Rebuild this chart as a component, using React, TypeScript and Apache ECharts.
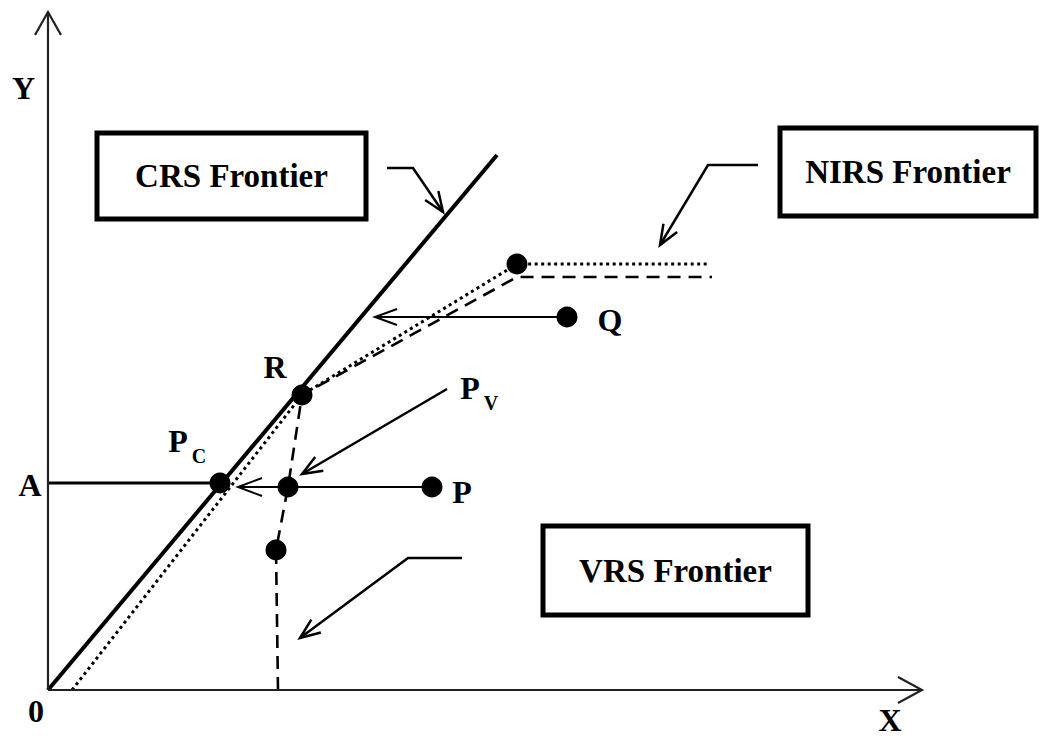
import React, { useEffect, useRef } from "react";
import * as echarts from "echarts";

const FONT = "'Liberation Serif', 'Times New Roman', serif";

// Frontiers (x, y) in diagram units
const crsFrontier = [[0, 0], [44.9, 53.5]];
const nirsFrontier = [[2.4, 0], [25.4, 29.5], [46.9, 42.6], [66.0, 42.6]];
const vrsFrontier = [[23.0, 0], [22.8, 14.0], [24.0, 20.3], [25.4, 29.5], [46.9, 41.3], [66.4, 41.3]];
const lineA = [[0, 20.7], [17.2, 20.7]];

// Decision-making units
const pointNames = ["Pc", "Pv", "P", "R", "Q", "V1", "N1"];
const pointValues = [[17.2, 20.7], [24.0, 20.3], [38.4, 20.3], [25.4, 29.5], [51.9, 37.3], [22.8, 14.0], [46.9, 42.6]];

// Arrows (polylines ending in an arrowhead)
const xAxisArrow = [[0, 0], [87.4, 0]];
const yAxisArrow = [[0, 0], [0, 67.8]];
const pMove = [[38.4, 20.3], [19.0, 20.3]];
const qMove = [[51.9, 37.3], [32.7, 37.3]];
const crsCallout = [[33.9, 52.2], [36.5, 52.2], [39.5, 47.8]];
const nirsCallout = [[71.0, 52.5], [66.0, 52.5], [61.2, 44.5]];
const pvCallout = [[39.9, 30.1], [25.4, 21.6]];
const vrsCallout = [[41.4, 13.2], [36.0, 13.2], [25.2, 5.2]];

// Labels: main text, subscript, anchor (x, y)
const labelTexts = ["Y", "X", "0", "A", "R", "P", "P", "P", "Q"];
const labelSubs = ["", "", "", "", "", "C", "V", "", ""];
const labelPos = [[-2.45, 60.2], [84.2, -3.0], [-1.2, -2.1], [-1.8, 20.5], [22.7, 32.3], [13.0, 24.9], [42.2, 30.2], [41.4, 19.8], [56.2, 37.0]];

const boxTexts = ["CRS Frontier", "NIRS Frontier", "VRS Frontier"];

export default function App() {
  const ref = useRef<HTMLDivElement>(null);
  useEffect(() => {
    if (!ref.current) return;
    const chart = echarts.init(ref.current, null, { renderer: "svg" });

    const arrowList = [
      { pts: xAxisArrow, w: 2.2, L: 24, W: 13, c: "#222" },
      { pts: yAxisArrow, w: 2.2, L: 23, W: 13, c: "#222" },
      { pts: pMove, w: 2, L: 24, W: 9, c: "#000" },
      { pts: qMove, w: 2, L: 22, W: 8, c: "#000" },
      { pts: crsCallout, w: 2.5, L: 20, W: 8, c: "#000" },
      { pts: nirsCallout, w: 2.5, L: 20, W: 8, c: "#000" },
      { pts: pvCallout, w: 2.5, L: 20, W: 8, c: "#000" },
      { pts: vrsCallout, w: 2.5, L: 20, W: 8, c: "#000" },
    ];

    const boxes = [
      { x: 97, y: 133, w: 269, h: 86 },
      { x: 780, y: 128, w: 256, h: 88 },
      { x: 543, y: 526, w: 265, h: 89 },
    ];

    const graphic: any[] = [];
    boxes.forEach((b, i) => {
      graphic.push({
        type: "rect",
        shape: { x: b.x, y: b.y, width: b.w, height: b.h },
        style: { fill: "#fff", stroke: "#000", lineWidth: 5 },
        z: 10,
      });
      graphic.push({
        type: "text",
        x: b.x + b.w / 2,
        y: b.y + b.h / 2,
        style: {
          text: boxTexts[i],
          fontFamily: FONT,
          fontWeight: "bold",
          fontSize: 33,
          fill: "#000",
          align: "center",
          verticalAlign: "middle",
        },
        z: 11,
      });
    });

    chart.setOption({
      animation: false,
      backgroundColor: "#fff",
      grid: { left: 48, top: 12, right: 122, bottom: 48, containLabel: false },
      xAxis: { type: "value", min: 0, max: 87.4, show: false },
      yAxis: { type: "value", min: 0, max: 67.8, show: false },
      graphic,
      series: [
        {
          type: "line",
          name: "CRS",
          data: crsFrontier,
          symbol: "none",
          lineStyle: { color: "#000", width: 4 },
          z: 3,
        },
        {
          type: "line",
          name: "NIRS",
          data: nirsFrontier,
          symbol: "none",
          lineStyle: { color: "#000", width: 3, type: [3, 3.5] },
          z: 3,
        },
        {
          type: "line",
          name: "VRS",
          data: vrsFrontier,
          symbol: "none",
          lineStyle: { color: "#000", width: 2.6, type: [13, 8] },
          z: 3,
        },
        {
          type: "line",
          name: "A",
          data: lineA,
          symbol: "none",
          lineStyle: { color: "#000", width: 3.2 },
          z: 3,
        },
        {
          type: "custom",
          name: "arrows",
          clip: false,
          data: arrowList.map((_, i) => [i, 0]),
          renderItem: (params: any, api: any) => {
            const a = arrowList[params.dataIndex];
            const pts = a.pts.map((p) => api.coord(p));
            const [tx, ty] = pts[pts.length - 1];
            const [px, py] = pts[pts.length - 2];
            const dx = tx - px;
            const dy = ty - py;
            const len = Math.hypot(dx, dy) || 1;
            const ux = dx / len;
            const uy = dy / len;
            const b1 = [tx - ux * a.L - uy * a.W, ty - uy * a.L + ux * a.W];
            const b2 = [tx - ux * a.L + uy * a.W, ty - uy * a.L - ux * a.W];
            return {
              type: "group",
              children: [
                {
                  type: "polyline",
                  shape: { points: pts },
                  style: { stroke: a.c, lineWidth: a.w, fill: null },
                },
                {
                  type: "polyline",
                  shape: { points: [b1, [tx, ty], b2] },
                  style: { stroke: a.c, lineWidth: a.w, fill: null, lineJoin: "miter" },
                },
              ],
            };
          },
          z: 4,
        },
        {
          type: "scatter",
          name: "DMU",
          data: pointValues.map((v, i) => ({ name: pointNames[i], value: v })),
          symbol: "circle",
          symbolSize: 21,
          itemStyle: { color: "#000", opacity: 1 },
          z: 5,
        },
        {
          type: "custom",
          name: "labels",
          clip: false,
          data: labelTexts.map((_, i) => [i, 0]),
          renderItem: (params: any, api: any) => {
            const i = params.dataIndex;
            const [x, y] = api.coord(labelPos[i]);
            const children: any[] = [
              {
                type: "text",
                x,
                y,
                style: {
                  text: labelTexts[i],
                  fontFamily: FONT,
                  fontWeight: "bold",
                  fontSize: 32,
                  fill: "#000",
                  align: "center",
                  verticalAlign: "middle",
                },
              },
            ];
            if (labelSubs[i]) {
              children.push({
                type: "text",
                x: x + 21,
                y: y + 15,
                style: {
                  text: labelSubs[i],
                  fontFamily: FONT,
                  fontWeight: "bold",
                  fontSize: 20,
                  fill: "#000",
                  align: "center",
                  verticalAlign: "middle",
                },
              });
            }
            return { type: "group", children };
          },
          z: 6,
        },
      ],
    });

    return () => chart.dispose();
  }, []);

  return (
    <div
      ref={ref}
      style={{ position: "absolute", left: 0, top: 0, width: 1044, height: 738 }}
    />
  );
}
